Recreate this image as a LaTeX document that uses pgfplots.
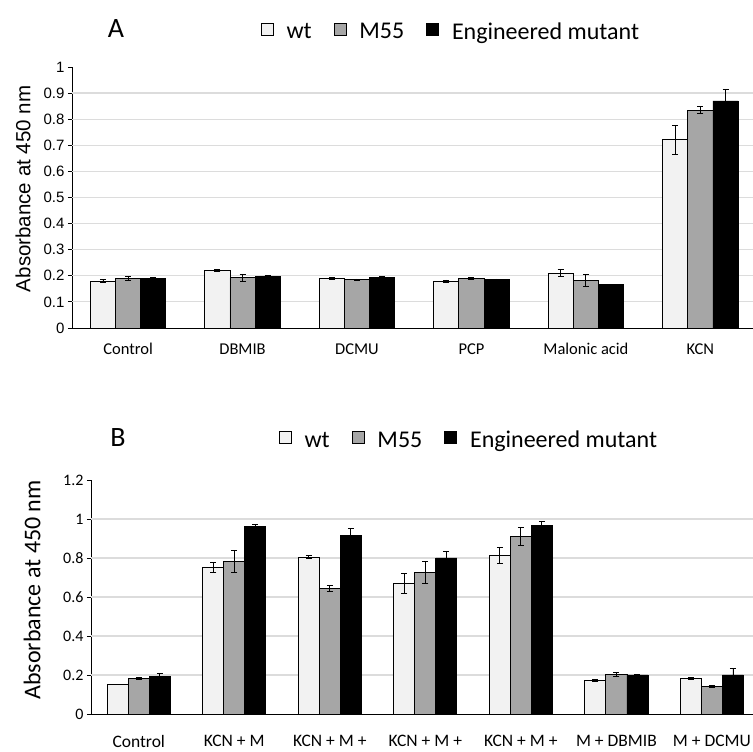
\documentclass[border=0pt]{standalone}
\usepackage{pgfplots}
\usepackage{pgfplotstable}
\pgfplotsset{compat=1.18}
\usepackage{fontspec}
\setmainfont{Carlito}
\newfontfamily\arialf{Liberation Sans}
\definecolor{wtc}{HTML}{F2F2F2}
\definecolor{mfc}{HTML}{A6A6A6}
\definecolor{gridc}{HTML}{DCDCDC}

\pgfplotstableread{
x y e
0 0.180 0.005
1 0.220 0.005
2 0.190 0.004
3 0.180 0.004
4 0.210 0.014
5 0.722 0.055
}\Awt
\pgfplotstableread{
x y e
0 0.190 0.007
1 0.192 0.015
2 0.186 0.002
3 0.190 0.005
4 0.182 0.024
5 0.835 0.013
}\Amf
\pgfplotstableread{
x y e
0 0.190 0.003
1 0.198 0.003
2 0.192 0.006
3 0.186 0.002
4 0.167 0.000
5 0.870 0.045
}\Amu
\pgfplotstableread{
x y e
0 0.150 0.000
1 0.752 0.025
2 0.805 0.008
3 0.670 0.050
4 0.812 0.040
5 0.170 0.005
6 0.182 0.005
}\Bwt
\pgfplotstableread{
x y e
0 0.183 0.004
1 0.783 0.055
2 0.645 0.015
3 0.725 0.055
4 0.912 0.045
5 0.205 0.010
6 0.142 0.005
}\Bmf
\pgfplotstableread{
x y e
0 0.192 0.014
1 0.960 0.010
2 0.915 0.038
3 0.800 0.035
4 0.965 0.025
5 0.200 0.005
6 0.200 0.035
}\Bmu

\pgfplotsset{
  mybars/.style={
    scale only axis, ybar, bar width=0.22,
    axis x line*=bottom, axis y line*=left,
    axis line style={-, black, line width=0.9pt},
    xtick=data,
    major x tick style={draw=none},
    tick align=outside, major tick length=4pt,
    ytick style={black, line width=0.8pt},
    /pgf/number format/assume math mode=true,
    yticklabel style={/pgf/number format/fixed, /pgf/number format/precision=1},
    extra y tick labels={},
    extra y tick style={grid=major, major tick length=0pt, major grid style={gridc, line width=1.2pt}},
    legend columns=3,
    legend style={draw=none, fill=none, font=\fontsize{24}{28}\selectfont, anchor=center,
      /tikz/every odd column/.append style={column sep=11pt},
      /tikz/every even column/.append style={column sep=20pt}},
    legend image code/.code={\draw[#1, draw=black, line width=0.7pt] (0pt,-3pt) rectangle (12pt,9pt);},
    error bars/error bar style={black, line width=0.8pt},
    error bars/error mark options={rotate=90, black, mark size=3pt, line width=0.8pt},
  },
}

\begin{document}
\begin{tikzpicture}[x=1pt,y=1pt]
\path[use as bounding box] (0,0) rectangle (753,752);

% Panel A
\begin{axis}[mybars,
  at={(72pt,424pt)}, anchor=south west,
  width=681pt, height=261pt,
  xmin=-0.49, xmax=5.46, ymin=0, ymax=1,
  ytick={0,0.1,0.2,0.3,0.4,0.5,0.6,0.7,0.8,0.9,1},
  extra y ticks={0.1,0.2,0.3,0.4,0.5,0.6,0.7,0.8,0.9},
  yticklabel style={font=\arialf\fontsize{15}{17}\selectfont},
  xticklabel style={font=\fontsize{16.5}{19}\selectfont, yshift=-8pt},
  xticklabels={Control,DBMIB,DCMU,PCP,Malonic acid,KCN},
  ylabel={Absorbance at 450 nm},
  ylabel style={font=\arialf\fontsize{20.5}{24}\selectfont, at={(axis description cs:-0.072,0.533)}, anchor=center},
  legend style={at={(axis description cs:0.5565,1.134)}},
]
\addplot[fill=wtc, draw=black, line width=0.8pt, bar shift=-0.22, error bars/.cd, y dir=both, y explicit] table[x=x,y=y,y error=e]{\Awt};
\addplot[fill=mfc, draw=black, line width=0.8pt, bar shift=0, error bars/.cd, y dir=both, y explicit] table[x=x,y=y,y error=e]{\Amf};
\addplot[fill=black, draw=black, line width=0.8pt, bar shift=0.22, error bars/.cd, y dir=both, y explicit] table[x=x,y=y,y error=e]{\Amu};
\legend{wt, M55, Engineered mutant}
\end{axis}

% Panel B
\begin{axis}[mybars,
  at={(91pt,38pt)}, anchor=south west,
  width=662pt, height=234pt,
  xmin=-0.5, xmax=6.43, ymin=0, ymax=1.2,
  ytick={0,0.2,0.4,0.6,0.8,1,1.2},
  extra y ticks={0.2,0.4,0.6,0.8,1},
  yticklabel style={font=\fontsize{16}{18}\selectfont},
  xticklabel style={font=\fontsize{17.5}{20}\selectfont, yshift=-14pt},
  xticklabels={Control,KCN + M,KCN + M +,KCN + M +,KCN + M +,M + DBMIB,M + DCMU},
  ylabel={Absorbance at 450 nm},
  ylabel style={font=\fontsize{24}{28}\selectfont, at={(axis description cs:-0.089,0.53)}, anchor=center},
  legend style={at={(axis description cs:0.571,1.17)}},
]
\addplot[fill=wtc, draw=black, line width=0.8pt, bar shift=-0.22, error bars/.cd, y dir=both, y explicit] table[x=x,y=y,y error=e]{\Bwt};
\addplot[fill=mfc, draw=black, line width=0.8pt, bar shift=0, error bars/.cd, y dir=both, y explicit] table[x=x,y=y,y error=e]{\Bmf};
\addplot[fill=black, draw=black, line width=0.8pt, bar shift=0.22, error bars/.cd, y dir=both, y explicit] table[x=x,y=y,y error=e]{\Bmu};
\legend{wt, M55, Engineered mutant}
\end{axis}

\node[font=\fontsize{28}{32}\selectfont] at (116,723) {A};
\node[font=\fontsize{28}{32}\selectfont] at (118,314) {B};
\end{tikzpicture}
\end{document}
